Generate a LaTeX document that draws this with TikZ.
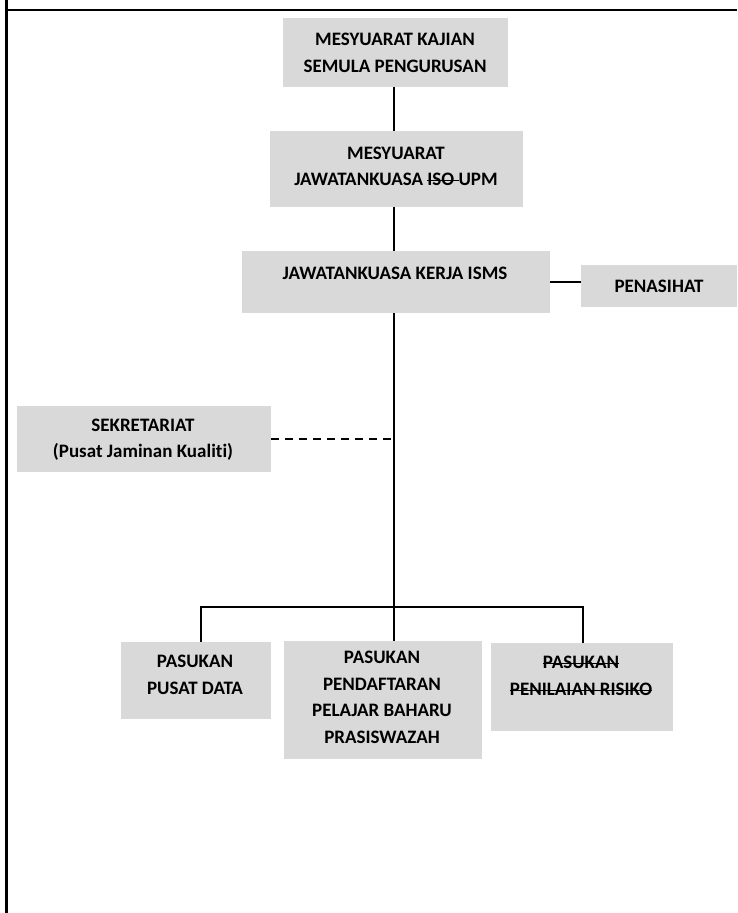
\documentclass[tikz,border=0pt]{standalone}
\usepackage{fontspec}
\setmainfont{Carlito}[Ligatures=NoCommon]
\newsavebox\strkbox
\newcommand\mystrike[1]{\sbox\strkbox{#1}\rlap{\usebox\strkbox}\rule[0.25em]{\wd\strkbox}{1.1pt}}
\begin{document}
\begin{tikzpicture}[x=1pt,y=-1pt,
  box/.style={fill=boxgray, draw=none, inner sep=0pt},
  txt/.style={font=\bfseries\fontsize{19}{26.5}\selectfont, align=center, inner sep=0pt, text=black},
  conn/.style={line width=1.5pt, black},
  dconn/.style={line width=1.5pt, black, dash pattern=on 8pt off 6pt}]
\definecolor{boxgray}{HTML}{D9D9D9}
\useasboundingbox (0,0) rectangle (737,913);
% frame
\draw[line width=3pt] (6,0) -- (6,913);
\draw[line width=2pt] (6,9.5) -- (737,9.5);
% boxes
\node[box, minimum width=225, minimum height=69] (b1) at (395.5,52.5) {};
\node[txt] (t1) at (395,53) {MESYUARAT KAJIAN\\SEMULA PENGURUSAN};
\node[box, minimum width=253, minimum height=76] (b2) at (396.5,169) {};
\node[txt] (t2) at (396,166.5) {MESYUARAT\\JAWATANKUASA \mystrike{ISO }UPM};
\node[box, minimum width=308, minimum height=62] (b3) at (396,282) {};
\node[txt] (t3) at (395,273) {JAWATANKUASA KERJA ISMS};
\node[box, minimum width=156, minimum height=42] (pen) at (659,286) {};
\node[txt] (tpen) at (659,286) {PENASIHAT};
\node[box, minimum width=254, minimum height=66] (sek) at (144,439) {};
\node[txt] (tsek) at (143,439.5) {SEKRETARIAT\\(Pusat Jaminan Kualiti)};
\node[box, minimum width=150, minimum height=77] (pd) at (196,680.5) {};
\node[txt] (tpd) at (195,675) {PASUKAN\\PUSAT DATA};
\node[box, minimum width=198, minimum height=118] (pp) at (383,700) {};
\node[txt] (tpp) at (382,697.5) {PASUKAN\\PENDAFTARAN\\PELAJAR BAHARU\\PRASISWAZAH};
\node[box, minimum width=182, minimum height=88] (pr) at (582,687) {};
\node[txt] (tpr) at (581,676) {\mystrike{PASUKAN}\\\mystrike{PENILAIAN RISIKO}};
% connectors
\coordinate (trunk) at (394,0);
\coordinate (busL) at (201,607);
\coordinate (busM) at (394,607);
\coordinate (busR) at (583,607);
\draw[conn] (b1.south -| trunk) -- (b2.north -| trunk);
\draw[conn] (b2.south -| trunk) -- (b3.north -| trunk);
\draw[conn] (b3.south -| trunk) -- (busM);
\draw[conn] (b3.east) -- (b3.east -| pen.west);
\draw[dconn] (sek.east) -- (sek.east -| trunk);
\draw[conn] (busL |- pd.north) -- (busL) -- (busR) -- (busR |- pr.north);
\draw[conn] (busM) -- (busM |- pp.north);
\end{tikzpicture}
\end{document}
